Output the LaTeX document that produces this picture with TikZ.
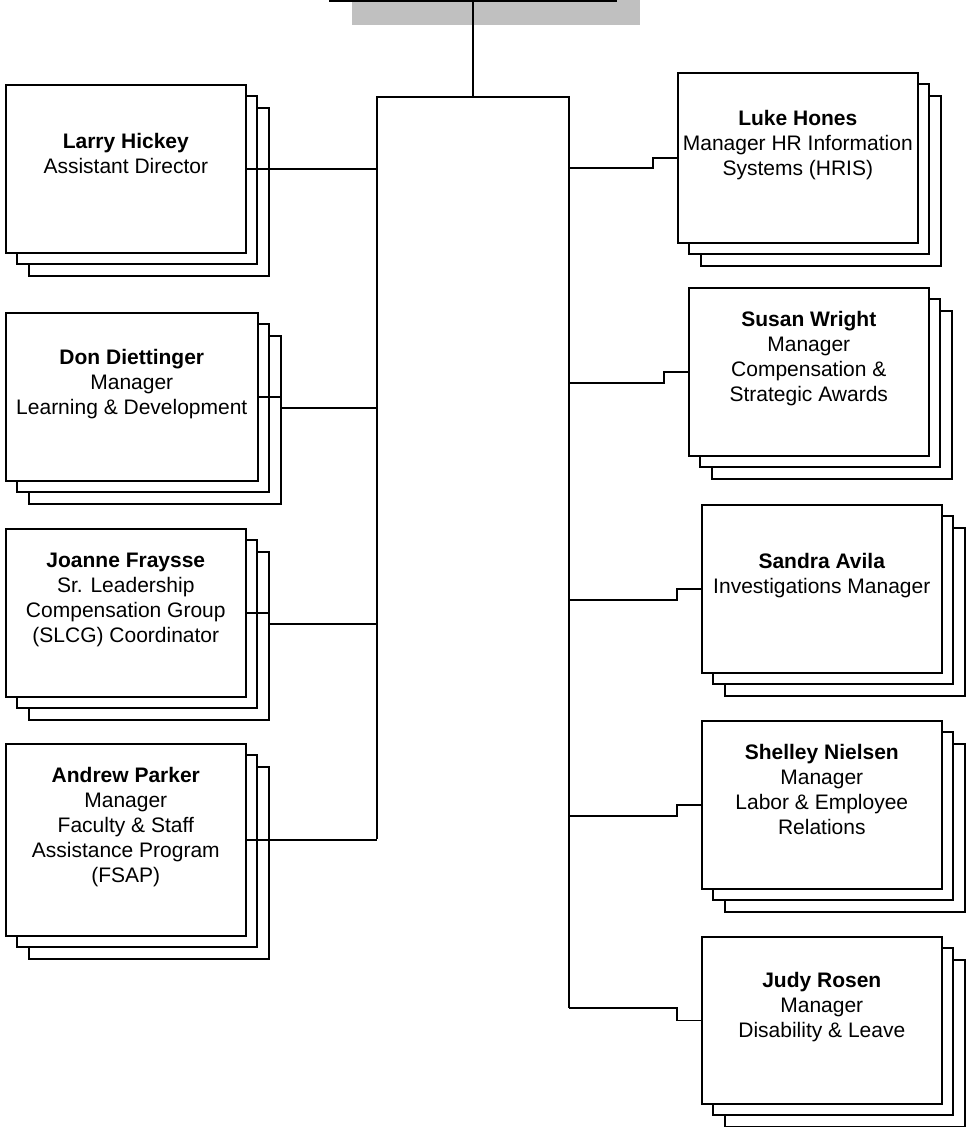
\documentclass[tikz,border=0pt]{standalone}
\usepackage{fontspec}
\setmainfont{Liberation Sans}
\definecolor{topgray}{HTML}{C0C0C0}
\tikzset{
  conn/.style={line width=1.6pt, line join=miter},
  card/.style={draw, line width=1.6pt, fill=white},
  front/.style={draw, line width=1.6pt, fill=white, rectangle, inner sep=0pt, anchor=north west},
  cardtext/.style={font=\fontsize{21}{25}\selectfont, align=center, inner sep=0pt,
    execute at begin node=\strut, execute at end node=\strut},
}
% name, x, y, w, h, text
\newcommand{\cardstack}[6]{%
  \draw[card] (#2+24,#3+24) rectangle ++(#4,#5);
  \draw[card] (#2+12,#3+12) rectangle ++(#4,#5);
  \node[front, minimum width=#4, minimum height=#5] (#1) at (#2,#3) {};
  \node[cardtext] (#1-t) at ([yshift=11.5pt]#1.center) {#6};
}
\begin{document}
\begin{tikzpicture}[x=1pt, y=-1pt]
\useasboundingbox (0,0) rectangle (966,1127);
% top box (cropped): shadow and bottom edge
\fill[topgray] (352,0) rectangle (640,25);
\draw[conn] (329,0.8) -- (617,0.8);
\coordinate (top) at (473,0.8);
\coordinate (hub) at (473,97);
\coordinate (ltop) at (377,97);
\coordinate (rtop) at (569,97);
\coordinate (lbot) at (377,839);
\coordinate (rbot) at (569,1008);

% left column
\cardstack{larry}{5}{84}{240}{168}{\textbf{Larry Hickey}\\Assistant Director}
\cardstack{don}{5}{312}{252}{168}{\textbf{Don Diettinger}\\Manager\\Learning \& Development}
\cardstack{joanne}{5}{528}{240}{168}{\textbf{Joanne Fraysse}\\Sr. Leadership\\Compensation Group\\(SLCG) Coordinator}
\cardstack{andrew}{5}{743}{240}{192}{\textbf{Andrew Parker}\\Manager\\Faculty \& Staff\\Assistance Program\\(FSAP)}

% right column
\cardstack{luke}{677}{72}{240}{170}{\textbf{Luke Hones}\\Manager HR Information\\Systems (HRIS)}
\cardstack{susan}{688}{287}{240}{168}{\textbf{Susan Wright}\\Manager\\Compensation \&\\Strategic Awards}
\cardstack{sandra}{701}{504}{240}{168}{\textbf{Sandra Avila}\\Investigations Manager}
\cardstack{shelley}{701}{720}{240}{168}{\textbf{Shelley Nielsen}\\Manager\\Labor \& Employee\\Relations}
\cardstack{judy}{701}{936}{240}{167}{\textbf{Judy Rosen}\\Manager\\Disability \& Leave}

% trunks
\draw[conn] (top) -- (hub);
\draw[conn] (lbot) -- (ltop) -- (rtop) -- (rbot);

% left connectors
\draw[conn] (larry.east) -- (larry.east -| ltop);
\coordinate (j2) at (377,408);
\draw[conn] (don.east) -- ++(23,0) |- (j2);
\coordinate (j3) at (377,624);
\draw[conn] (joanne.east) -- ++(23,0) |- (j3);
\draw[conn] (andrew.east) -- (andrew.east -| lbot);

% right connectors
\coordinate (r1) at (569,168);
\draw[conn] (r1) -- (653,168) |- (luke.west);
\coordinate (r2) at (569,383);
\draw[conn] (r2) -- (664,383) |- (susan.west);
\coordinate (r3) at (569,600);
\draw[conn] (r3) -- (677,600) |- (sandra.west);
\coordinate (r4) at (569,816);
\draw[conn] (r4) -- (677,816) |- (shelley.west);
\draw[conn] (rbot) -- (677,1008) |- (judy.west);
\end{tikzpicture}
\end{document}
